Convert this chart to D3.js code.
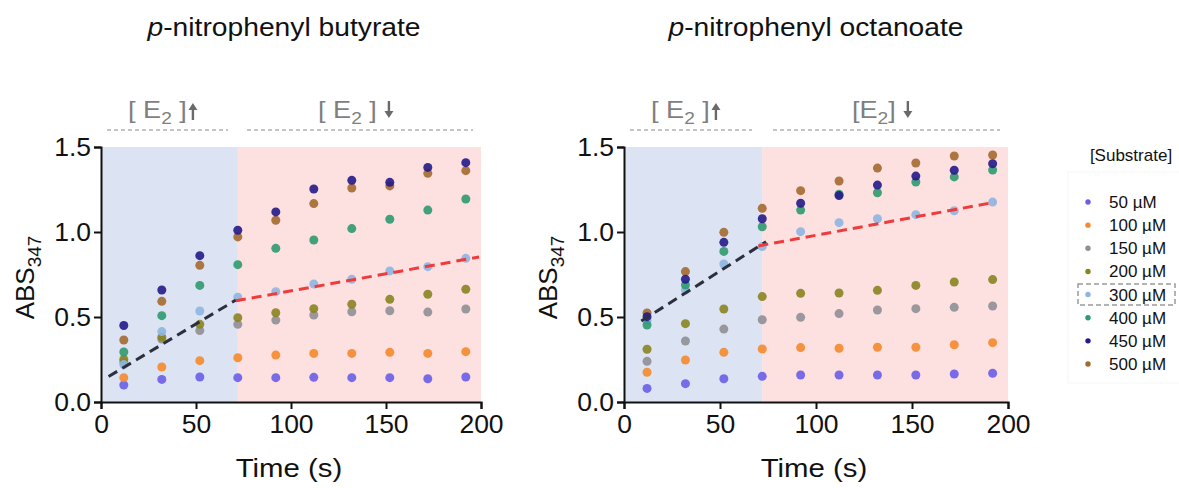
<!DOCTYPE html>
<html>
<head>
<meta charset="utf-8">
<script src="https://cdn.jsdelivr.net/npm/d3@7"></script>
<style>
  html, body { margin: 0; padding: 0; background: #fff; }
  svg { display: block; font-family: "Liberation Sans", Arial, Helvetica, sans-serif; }
</style>
</head>
<body>
<svg id="chart" width="1179" height="488"></svg>
<script>
// Sampling times (s)
const times = [12, 32, 52, 72, 92, 112, 132, 152, 172, 192];

// Substrate concentrations (legend order)
const substrates = ["50 µM", "100 µM", "150 µM", "200 µM", "300 µM", "400 µM", "450 µM", "500 µM"];
const palette = ["#6a5ee8", "#f58a2c", "#8f8f96", "#8a8420", "#8db6e2", "#2d9a70", "#241a88", "#a4692f"];

// ABS347 readings, p-nitrophenyl butyrate (one row per substrate concentration)
const butyrate50  = [0.100, 0.133, 0.147, 0.143, 0.143, 0.145, 0.143, 0.143, 0.137, 0.147];
const butyrate100 = [0.143, 0.206, 0.243, 0.260, 0.276, 0.286, 0.286, 0.292, 0.286, 0.296];
const butyrate150 = [0.235, 0.370, 0.420, 0.457, 0.482, 0.512, 0.531, 0.537, 0.529, 0.547];
const butyrate200 = [0.250, 0.382, 0.457, 0.496, 0.525, 0.549, 0.575, 0.604, 0.634, 0.663];
const butyrate300 = [0.220, 0.414, 0.535, 0.616, 0.649, 0.694, 0.722, 0.771, 0.796, 0.845];
const butyrate400 = [0.294, 0.508, 0.686, 0.808, 0.904, 0.953, 1.020, 1.075, 1.129, 1.194];
const butyrate450 = [0.450, 0.659, 0.861, 1.010, 1.118, 1.253, 1.304, 1.292, 1.380, 1.408];
const butyrate500 = [0.365, 0.592, 0.804, 0.971, 1.069, 1.167, 1.259, 1.271, 1.345, 1.361];

// ABS347 readings, p-nitrophenyl octanoate
const octanoate50  = [0.080, 0.108, 0.137, 0.151, 0.159, 0.159, 0.159, 0.159, 0.165, 0.169];
const octanoate100 = [0.175, 0.247, 0.292, 0.312, 0.320, 0.316, 0.322, 0.322, 0.337, 0.349];
const octanoate150 = [0.239, 0.359, 0.429, 0.484, 0.498, 0.520, 0.541, 0.549, 0.557, 0.565];
const octanoate200 = [0.310, 0.461, 0.547, 0.620, 0.639, 0.641, 0.657, 0.686, 0.706, 0.720];
const octanoate300 = [0.480, 0.659, 0.812, 0.914, 1.002, 1.055, 1.078, 1.102, 1.125, 1.176];
const octanoate400 = [0.453, 0.688, 0.886, 1.031, 1.129, 1.222, 1.231, 1.294, 1.324, 1.365];
const octanoate450 = [0.502, 0.722, 0.939, 1.078, 1.169, 1.214, 1.276, 1.329, 1.363, 1.402];
const octanoate500 = [0.524, 0.767, 0.998, 1.139, 1.243, 1.300, 1.376, 1.406, 1.447, 1.453];

// Linear trends for the 300 µM series: [time, ABS] end points
const butyrateFitUp   = [[4, 0.150], [71, 0.600]];
const butyrateFitDown = [[71, 0.595], [199, 0.853]];
const octanoateFitUp   = [[9, 0.476], [74, 0.943]];
const octanoateFitDown = [[70, 0.918], [193, 1.175]];

// Time at which enzyme concentration switches from rising to falling
const phaseSplit = 72;

// Axis ticks
const xTicks = [0, 50, 100, 150, 200];
const yTicks = [0, 0.5, 1.0, 1.5];

// Horizontal stretch applied to the larger labels
const STRETCH = 1.13;

const svg = d3.select("#chart");

// text placed at (x, y) and widened horizontally about its anchor
function wideText(parent, x, y, anchor, size) {
  return parent.append("g")
    .attr("transform", `translate(${x},${y}) scale(${STRETCH},1)`)
    .append("text")
    .attr("text-anchor", anchor)
    .attr("fill", "#111")
    .style("font-size", size + "px");
}

function drawPanel(opts) {
  const x = d3.scaleLinear().domain([0, 200]).range(opts.xRange);
  const y = d3.scaleLinear().domain([0, 1.5]).range([402, 147]);
  const g = svg.append("g");

  // phase shading
  g.append("rect")
    .attr("x", x(0)).attr("y", y(1.5))
    .attr("width", x(phaseSplit) - x(0)).attr("height", y(0) - y(1.5))
    .attr("fill", "#dce3f2");
  g.append("rect")
    .attr("x", x(phaseSplit)).attr("y", y(1.5))
    .attr("width", x(200) - x(phaseSplit)).attr("height", y(0) - y(1.5))
    .attr("fill", "#fde0e0");

  // points, drawn so the darker series sit on top
  const drawOrder = [7, 0, 1, 2, 3, 4, 5, 6];
  drawOrder.forEach(i => {
    g.append("g").selectAll("circle")
      .data(opts.series[i])
      .join("circle")
      .attr("cx", (d, j) => x(times[j]))
      .attr("cy", d => y(d))
      .attr("r", 4.5)
      .attr("fill", palette[i])
      .attr("fill-opacity", 0.9);
  });

  // trend lines
  const line = d3.line().x(d => x(d[0])).y(d => y(d[1]));
  g.append("path").datum(opts.fitUp)
    .attr("d", line).attr("fill", "none")
    .attr("stroke", "#2c303c").attr("stroke-width", 3)
    .attr("stroke-dasharray", "10,6");
  g.append("path").datum(opts.fitDown)
    .attr("d", line).attr("fill", "none")
    .attr("stroke", "#ef3b3b").attr("stroke-width", 3)
    .attr("stroke-dasharray", "10,6");

  // axes
  const xAxis = g.append("g")
    .attr("transform", `translate(0,${y(0)})`)
    .call(d3.axisBottom(x).tickValues(xTicks).tickSize(7).tickPadding(5).tickFormat(d3.format("d")));
  const yAxis = g.append("g")
    .attr("transform", `translate(${x(0)},0)`)
    .call(d3.axisLeft(y).tickValues(yTicks).tickSize(7).tickPadding(3).tickFormat(d3.format(".1f")));
  [xAxis, yAxis].forEach(a => {
    a.select(".domain").attr("stroke", "#111").attr("stroke-width", 2);
    a.selectAll(".tick line").attr("stroke", "#111").attr("stroke-width", 2);
    a.selectAll(".tick text").attr("fill", "#111")
      .style("font-size", "26.5px").style("font-family", "'Liberation Sans', Arial, sans-serif");
  });

  // axis titles
  wideText(g, (x(0) + x(200)) / 2 - 2, 477, "middle", 26).text("Time (s)");
  const yl = g.append("text")
    .attr("transform", `translate(${opts.yLabelX},${(y(0) + y(1.5)) / 2 + 3}) rotate(-90)`)
    .attr("text-anchor", "middle").attr("fill", "#111")
    .style("font-size", "26px");
  yl.append("tspan").text("ABS");
  yl.append("tspan").attr("dy", 7).style("font-size", "19px").text("347");

  // panel title
  const t = wideText(g, (x(0) + x(200)) / 2 + opts.titleShift, 36, "middle", 25);
  t.append("tspan").style("font-style", "italic").text("p");
  t.append("tspan").text(opts.title);

  // enzyme-phase annotations
  opts.notes.forEach(n => {
    const nt = g.append("g")
      .attr("transform", `translate(${n.x},118) scale(${STRETCH},1)`)
      .append("text")
      .attr("fill", "#7f7f7f").style("font-size", "24px");
    nt.append("tspan").text(n.pre);
    nt.append("tspan").attr("dy", 6).style("font-size", "17px").text("2");
    nt.append("tspan").attr("dy", -6).text(n.post);
    const bb = nt.node().getBBox();
    const ax = n.x + (bb.x + bb.width) * STRETCH + n.arrowGap;
    const dir = n.up ? -1 : 1;
    const ay = n.up ? 113 : 108;
    g.append("line")
      .attr("x1", ax).attr("x2", ax)
      .attr("y1", ay - 7 * dir).attr("y2", ay + 4 * dir)
      .attr("stroke", "#6a6a6a").attr("stroke-width", 2.4);
    g.append("path")
      .attr("d", `M${ax - 4.5},${ay + 3 * dir} L${ax + 4.5},${ay + 3 * dir} L${ax},${ay + 10 * dir} Z`)
      .attr("fill", "#6a6a6a");
    g.append("line")
      .attr("x1", n.dash[0]).attr("x2", n.dash[1])
      .attr("y1", 130).attr("y2", 130)
      .attr("stroke", "#8a8a8a").attr("stroke-width", 1.2)
      .attr("stroke-dasharray", "4,3");
  });
}

drawPanel({
  xRange: [101, 481],
  yLabelX: 34,
  title: "-nitrophenyl butyrate",
  titleShift: -7,
  series: [butyrate50, butyrate100, butyrate150, butyrate200, butyrate300, butyrate400, butyrate450, butyrate500],
  fitUp: butyrateFitUp,
  fitDown: butyrateFitDown,
  notes: [
    { x: 128, pre: "[ E", post: " ]", up: true, arrowGap: 6, dash: [107, 228] },
    { x: 318, pre: "[ E", post: " ]", up: false, arrowGap: 12, dash: [247, 473] }
  ]
});

drawPanel({
  xRange: [624, 1008],
  yLabelX: 557,
  title: "-nitrophenyl octanoate",
  titleShift: 0,
  series: [octanoate50, octanoate100, octanoate150, octanoate200, octanoate300, octanoate400, octanoate450, octanoate500],
  fitUp: octanoateFitUp,
  fitDown: octanoateFitDown,
  notes: [
    { x: 651, pre: "[ E", post: " ]", up: true, arrowGap: 6, dash: [630, 752] },
    { x: 852, pre: "[E", post: "]", up: false, arrowGap: 12, dash: [773, 1000] }
  ]
});

// legend
const legend = svg.append("g");
legend.append("rect")
  .attr("x", 1068).attr("y", 172).attr("width", 112).attr("height", 211)
  .attr("fill", "#fff").attr("stroke", "#f6f6f6").attr("stroke-width", 1);
legend.append("text")
  .attr("x", 1131).attr("y", 161).attr("text-anchor", "middle")
  .attr("fill", "#111").style("font-size", "17px").text("[Substrate]");
const rowY = d3.scalePoint().domain(substrates).range([202, 364]);
substrates.forEach((s, i) => {
  legend.append("circle")
    .attr("cx", 1088).attr("cy", rowY(s)).attr("r", 2.7).attr("fill", palette[i]);
  legend.append("text")
    .attr("x", 1109).attr("y", rowY(s) + 6)
    .attr("fill", "#111").style("font-size", "17px").text(s);
});
legend.append("rect")
  .attr("x", 1078).attr("y", rowY("300 µM") - 10.5).attr("width", 97).attr("height", 21)
  .attr("fill", "none").attr("stroke", "#9a9a9a").attr("stroke-width", 1.5)
  .attr("stroke-dasharray", "5,3");
</script>
</body>
</html>
